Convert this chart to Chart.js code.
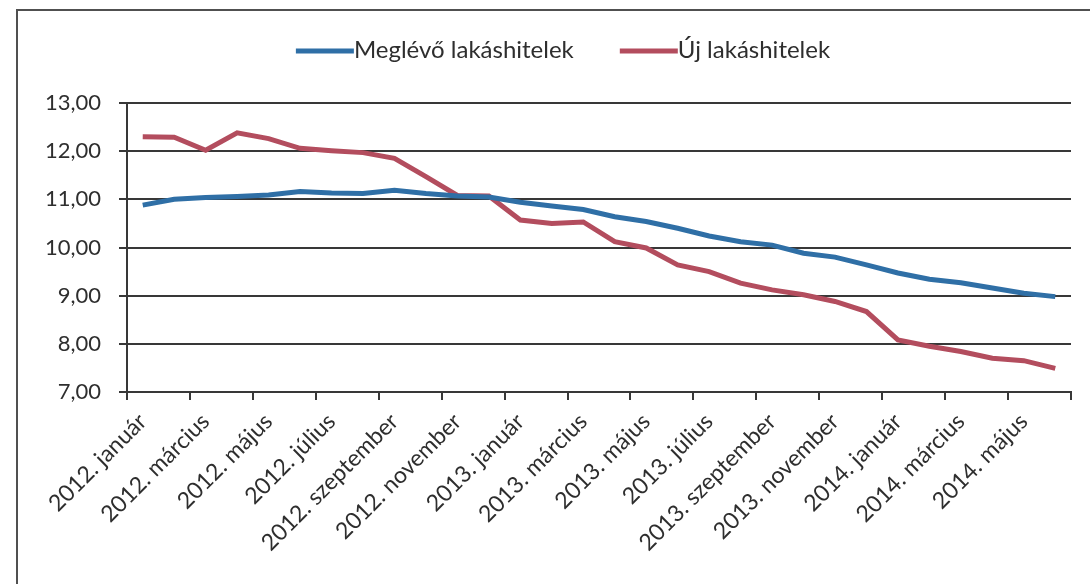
<!DOCTYPE html>
<html>
<head>
<meta charset="utf-8">
<script src="https://cdn.jsdelivr.net/npm/chart.js@4/dist/chart.umd.min.js"></script>
<style>
  html, body { margin: 0; padding: 0; background: #ffffff; }
  #wrap { width: 1090px; height: 584px; position: relative; }
</style>
</head>
<body>
<div id="wrap"><canvas id="c" width="1090" height="584"></canvas></div>
<script>
// Havi kamatlábak (%), 2012. január – 2014. június
const months = [
  '2012. január', '2012. február', '2012. március', '2012. április', '2012. május', '2012. június',
  '2012. július', '2012. augusztus', '2012. szeptember', '2012. október', '2012. november', '2012. december',
  '2013. január', '2013. február', '2013. március', '2013. április', '2013. május', '2013. június',
  '2013. július', '2013. augusztus', '2013. szeptember', '2013. október', '2013. november', '2013. december',
  '2014. január', '2014. február', '2014. március', '2014. április', '2014. május', '2014. június'
];

const meglevoLakashitelek = [
  10.88, 11.00, 11.04, 11.06, 11.09, 11.16, 11.13, 11.12, 11.19, 11.12, 11.07, 11.05,
  10.94, 10.86, 10.79, 10.64, 10.54, 10.40, 10.24, 10.12, 10.05, 9.88, 9.80, 9.64,
  9.47, 9.34, 9.27, 9.16, 9.05, 8.98
];

const ujLakashitelek = [
  12.30, 12.29, 12.02, 12.38, 12.26, 12.06, 12.01, 11.97, 11.85, 11.47, 11.08, 11.07,
  10.57, 10.50, 10.53, 10.12, 9.99, 9.64, 9.50, 9.26, 9.12, 9.02, 8.88, 8.67,
  8.08, 7.95, 7.84, 7.70, 7.65, 7.49
];

const seriesNames = ['Meglévő lakáshitelek', 'Új lakáshitelek'];

const yMin = 7, yMax = 13, yStep = 1;

const FONT = 'Lato, "Open Sans", sans-serif';
const TEXT = '#2e2e2e';
const AXIS = '#383838';

// Frame around the chart (left and top edges)
const framePlugin = {
  id: 'frame',
  beforeDraw(chart) {
    const ctx = chart.ctx;
    ctx.save();
    ctx.fillStyle = '#ffffff';
    ctx.fillRect(0, 0, chart.width, chart.height);
    ctx.strokeStyle = '#505050';
    ctx.lineWidth = 2;
    ctx.beginPath();
    ctx.moveTo(17, chart.height);
    ctx.lineTo(17, 10);
    ctx.lineTo(chart.width, 10);
    ctx.stroke();
    ctx.restore();
  }
};

// Legend: line sample directly followed by the series name
const lineLegend = {
  id: 'lineLegend',
  afterDraw(chart) {
    const ctx = chart.ctx;
    const o = chart.options.plugins.lineLegend;
    ctx.save();
    ctx.font = o.fontSize + 'px ' + FONT;
    ctx.textBaseline = 'middle';
    ctx.textAlign = 'left';
    const items = chart.data.datasets.map(ds => ({
      label: ds.label, color: ds.borderColor, w: ctx.measureText(ds.label).width
    }));
    const total = items.reduce((s, it) => s + o.lineLen + it.w, 0) + o.gap * (items.length - 1);
    let x = o.centerX - total / 2;
    const y = o.y;
    items.forEach(it => {
      ctx.strokeStyle = it.color;
      ctx.lineWidth = 5;
      ctx.lineCap = 'butt';
      ctx.beginPath();
      ctx.moveTo(x, y + 1);
      ctx.lineTo(x + o.lineLen, y + 1);
      ctx.stroke();
      ctx.fillStyle = TEXT;
      ctx.fillText(it.label, x + o.lineLen, y);
      x += o.lineLen + it.w + o.gap;
    });
    ctx.restore();
  }
};

new Chart(document.getElementById('c'), {
  type: 'line',
  data: {
    labels: months,
    datasets: [
      {
        label: seriesNames[0],
        data: meglevoLakashitelek,
        borderColor: '#2f6fa6',
        borderWidth: 5,
        pointRadius: 0,
        tension: 0,
        fill: false
      },
      {
        label: seriesNames[1],
        data: ujLakashitelek,
        borderColor: '#b34d5e',
        borderWidth: 5,
        pointRadius: 0,
        tension: 0,
        fill: false
      }
    ]
  },
  options: {
    responsive: false,
    animation: false,
    layout: { padding: { top: 103, right: 19, left: 0, bottom: 0 } },
    plugins: {
      legend: { display: false },
      tooltip: { enabled: false },
      lineLegend: { centerX: 563, y: 50, lineLen: 58, gap: 46, fontSize: 24 }
    },
    scales: {
      x: {
        type: 'category',
        offset: true,
        grid: {
          offset: true,
          drawOnChartArea: false,
          drawTicks: true,
          tickLength: 8,
          lineWidth: 2,
          color: (c) => (c.type !== 'tick' || c.index % 2 === 0) ? AXIS : 'rgba(0,0,0,0)'
        },
        border: { display: true, color: AXIS, width: 2 },
        ticks: {
          autoSkip: false,
          minRotation: 45,
          maxRotation: 45,
          padding: 8,
          color: TEXT,
          font: { family: FONT, size: 23 },
          callback: (v, i) => (i % 2 === 0 ? months[i] : '')
        },
        afterFit: (s) => { s.height = 192; }
      },
      y: {
        min: yMin,
        max: yMax,
        grid: {
          color: AXIS,
          lineWidth: 2,
          drawTicks: true,
          tickLength: 8
        },
        border: { display: true, color: AXIS, width: 2 },
        ticks: {
          stepSize: yStep,
          padding: 18,
          color: TEXT,
          font: { family: FONT, size: 22 },
          callback: (v) => Number(v).toFixed(2).replace('.', ',')
        },
        afterFit: (s) => { s.width = 127; }
      }
    }
  },
  plugins: [framePlugin, lineLegend]
});
</script>
</body>
</html>
